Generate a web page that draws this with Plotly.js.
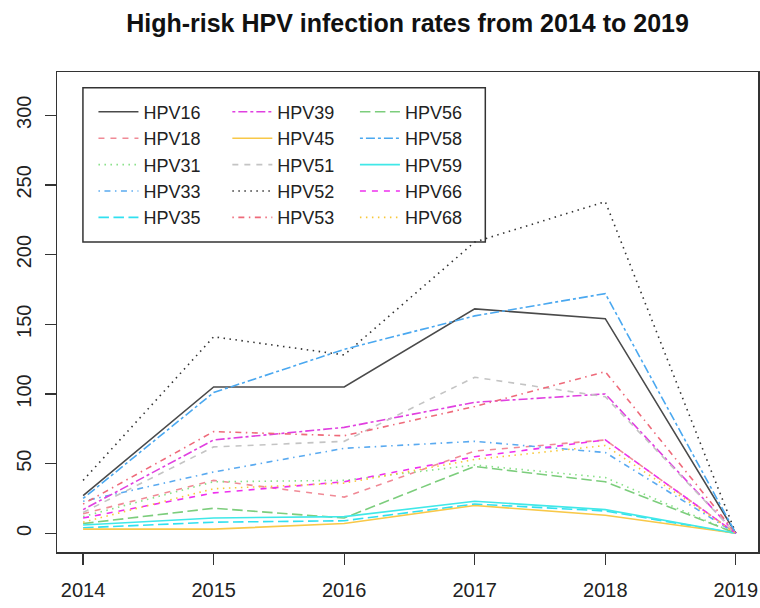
<!DOCTYPE html>
<html>
<head>
<meta charset="utf-8">
<script src="https://cdn.plot.ly/plotly-3.0.1.min.js"></script>
<style>html,body{margin:0;padding:0;background:#fff;overflow:hidden}</style>
</head>
<body>
<div id="chart" style="width:760px;height:608px"></div>
<script>
// ---- data ----
var years = [2014, 2015, 2016, 2017, 2018, 2019];
var types = ["HPV16","HPV18","HPV31","HPV33","HPV35","HPV39","HPV45","HPV51","HPV52","HPV53","HPV56","HPV58","HPV59","HPV66","HPV68"];
var HPV16 = [27, 105, 105, 161, 154, 0];
var HPV18 = [14, 38, 26, 59, 67, 0];
var HPV31 = [12, 37, 38, 49, 40, 0];
var HPV33 = [23, 44, 61, 66, 58, 0];
var HPV35 = [4, 8, 9, 21, 16, 0];
var HPV39 = [17, 67, 76, 94, 100, 0];
var HPV45 = [3, 3, 7, 20, 13, 0];
var HPV51 = [15, 62, 66, 112, 98, 0];
var HPV52 = [38, 141, 128, 209, 238, 0];
var HPV53 = [21, 73, 70, 91, 116, 0];
var HPV56 = [7, 18, 11, 48, 37, 0];
var HPV58 = [25, 101, 132, 156, 172, 0];
var HPV59 = [6, 11, 12, 23, 17, 0];
var HPV66 = [11, 29, 37, 55, 67, 0];
var HPV68 = [8, 32, 36, 53, 63, 0];
var series = [HPV16,HPV18,HPV31,HPV33,HPV35,HPV39,HPV45,HPV51,HPV52,HPV53,HPV56,HPV58,HPV59,HPV66,HPV68];
var yTicks = [0, 50, 100, 150, 200, 250, 300];
var chartTitle = "High-risk HPV infection rates from 2014 to 2019";

// ---- styles ----
var colors = ["#4a4a4a","#f08a96","#86e086","#5aaaf0","#30e0f0","#e040e0","#f8c848","#c4c4c4","#333333","#ee6a7a","#7ccd7c","#4aa8f0","#40e8e8","#ee30ee","#f8c838"];
var dashes = {
  solid: "solid",
  dashed: "6px,6px",
  dotted: "1.5px,4.5px",
  dotdash: "1.5px,4.5px,6px,4.5px",
  longdash: "10.5px,4.5px",
  twodash: "3px,3px,9px,3px"
};
var ltys = ["solid","dashed","dotted","dotdash","longdash","twodash"];
var legendIds = ["legend","legend2","legend3"];

var traces = types.map(function(name, i){
  return {
    x: years, y: series[i], name: name, type: "scatter", mode: "lines",
    line: {color: colors[i], width: 1.6, dash: dashes[ltys[i % 6]]},
    legend: legendIds[Math.floor(i / 5)],
    hoverinfo: "x+y+name"
  };
});

var legFont = {family: "Liberation Sans, Arial, sans-serif", size: 18, color: "#222"};
function leg(x){
  return {x: x, y: 0.955, xanchor: "left", yanchor: "top", bgcolor: "rgba(0,0,0,0)",
          borderwidth: 0, font: legFont, itemwidth: 40, tracegroupgap: 0};
}

var layout = {
  width: 760, height: 608,
  margin: {l: 57, r: 2, t: 72, b: 56},
  paper_bgcolor: "#fff", plot_bgcolor: "#fff",
  title: {text: "<b>" + chartTitle + "</b>", font: {family: "Liberation Sans, Arial, sans-serif", size: 25, color: "#111"},
          x: 0.5, xref: "paper", y: 1 - 23/608, yref: "container", yanchor: "middle"},
  showlegend: true,
  legend: leg(0.052),
  legend2: leg(0.243),
  legend3: leg(0.425),
  xaxis: {range: [2013.8, 2019.17], tickvals: years, ticktext: years.map(String),
          showgrid: false, zeroline: false, showline: true, mirror: true, linecolor: "#333", linewidth: 1.5,
          ticks: "outside", ticklen: 11, tickwidth: 1.3, tickcolor: "#333", ticklabelstandoff: 8,
          tickfont: {family: "Liberation Sans, Arial, sans-serif", size: 20, color: "#222"}, fixedrange: true},
  yaxis: {range: [-13.4, 331], tickvals: yTicks, ticktext: yTicks.map(String), tickangle: -90,
          showgrid: false, zeroline: false, showline: true, mirror: true, linecolor: "#333", linewidth: 1.5,
          ticks: "outside", ticklen: 11, tickwidth: 1.3, tickcolor: "#333", ticklabelstandoff: 6,
          tickfont: {family: "Liberation Sans, Arial, sans-serif", size: 20, color: "#222"}, fixedrange: true},
  shapes: [{type: "rect", xref: "paper", yref: "paper", x0: 0.037, x1: 0.611, y0: 0.646, y1: 0.967,
            line: {color: "#333", width: 1.5}, fillcolor: "#fff", layer: "below"}]
};

Plotly.newPlot("chart", traces, layout, {displayModeBar: false, staticPlot: true});
</script>
</body>
</html>
